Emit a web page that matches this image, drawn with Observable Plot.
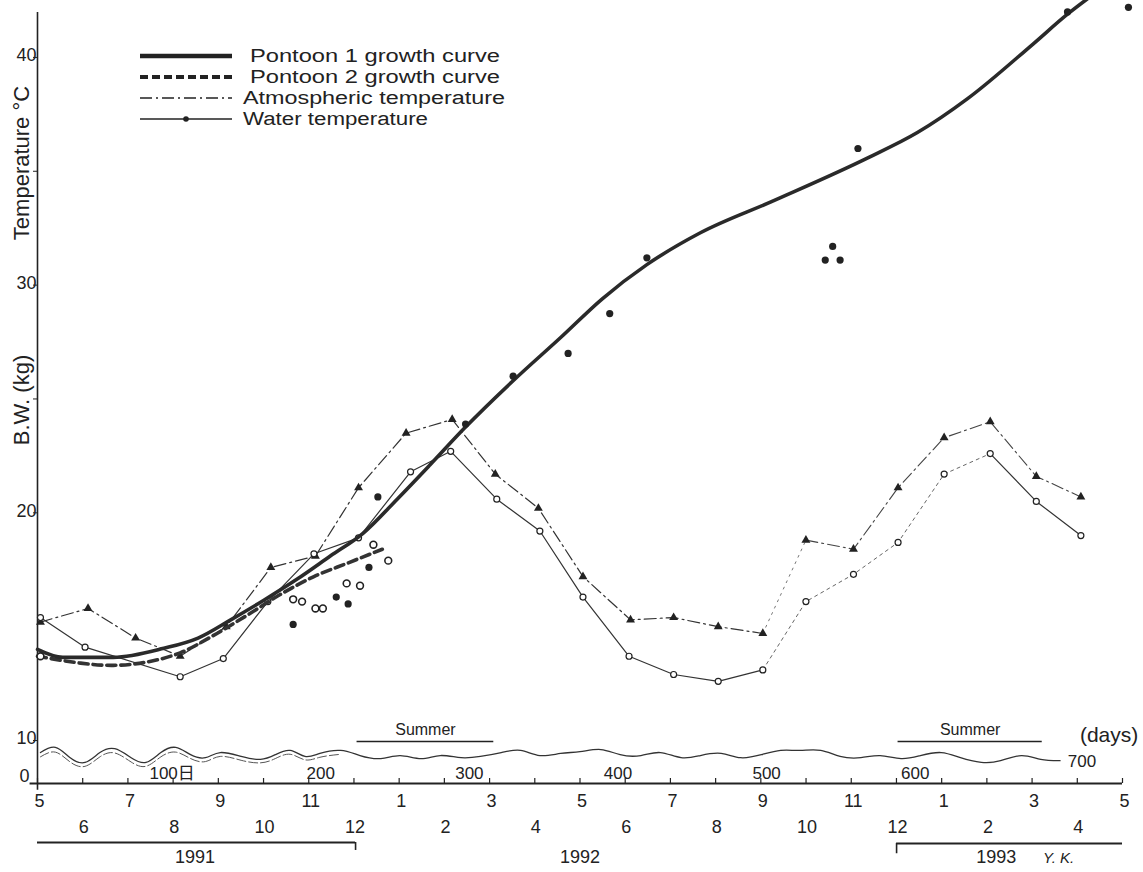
<!DOCTYPE html>
<html><head><meta charset="utf-8">
<script src="https://cdn.jsdelivr.net/npm/d3@7"></script>
<script src="https://cdn.jsdelivr.net/npm/@observablehq/plot@0.6"></script>
<style>
body{margin:0;background:#fff;}
#wrap{position:relative;width:1143px;height:872px;overflow:hidden;font-family:"Liberation Sans",Arial,Helvetica,"Noto Sans CJK JP",sans-serif;color:#222;}
#wrap svg{position:absolute;left:0;top:0;}
</style></head><body><div id="wrap"></div>
<script>
// ---- Data (x = days from 1 May 1991; y = kg or °C) ----
const monthNames = ["5","6","7","8","9","10","11","12","1","2","3","4","5","6","7","8","9","10","11","12","1","2","3","4","5"];
const dayTicks = [100,200,300,400,500,600,700];
const dayLabels = ["100日","200","300","400","500","600","700"];
const yTickValues = [10,20,30,40];
const yMinorTicks = [25,35];

const p1CurveDay = [0,17,51,85,108,130,152,175,197,219,242,264,287,320,352,380,410,446,495,559,592,626,670,693,709];
const p1CurveBW  = [14.0,13.65,13.65,14.05,14.5,15.3,16.15,17.1,18.1,19.1,20.6,22.1,23.7,25.8,27.7,29.4,30.9,32.3,33.7,35.6,36.7,38.2,40.6,41.9,42.7];

const p2CurveDay = [0,29,51,74,96,118,141,163,186,209,232];
const p2CurveBW  = [13.7,13.4,13.3,13.45,13.85,14.6,15.5,16.4,17.2,17.8,18.4];

const atmDay  = [2,34,66,96,127,157,187,216,248,279,308,337,367,399,428,458,488,517,549,579,610,641,672,702];
const atmTemp = [15.2,15.8,14.5,13.7,15.0,17.6,18.1,21.1,23.5,24.1,21.7,20.2,17.2,15.3,15.4,15.0,14.7,18.8,18.4,21.1,23.3,24.0,21.6,20.7];

const waterDay  = [2,32,96,125,155,186,216,251,278,309,338,367,398,428,458,488,517,549,579,610,641,672,702];
const waterTemp = [15.4,14.1,12.8,13.6,16.1,18.2,18.9,21.8,22.7,20.6,19.2,16.3,13.7,12.9,12.6,13.1,16.1,17.3,18.7,21.7,22.6,20.5,19.0];

const p1PtDay = [172,201,209,223,229,288,320,357,385,410,530,540,535,552,693,734];
const p1PtBW  = [15.1,16.3,16.0,17.6,20.7,23.9,26.0,27.0,28.75,31.2,31.1,31.1,31.7,36.0,42.0,42.2];

const p2PtDay = [2,172,178,187,192,208,217,226,236];
const p2PtBW  = [13.7,16.2,16.1,15.8,15.8,16.9,16.8,18.6,17.9];

// wavy strip, in units of the compressed 0–10 part of the axis
const waveDay = [2,12,22,32,42,52,63,73,83,93,103,113,123,137,150,160,170,180,190,204,217,231,244,258,271,285,298,312,325,338,352,365,379,392,406,419,433,446,460,473,487,500,513,527,540,554,567,581,594,608,621,635,648,662,675,688];
const waveVal = [7.2,8.4,6.0,4.9,7.2,8.1,6.0,4.9,7.2,8.4,6.7,6.0,7.2,6.3,5.6,6.7,7.7,6.3,7.0,7.7,6.5,5.8,6.5,5.8,6.5,6.0,6.3,7.2,7.7,6.5,7.0,7.4,7.9,6.7,6.5,7.2,6.0,6.5,7.0,6.0,6.7,7.7,7.7,7.7,6.3,6.0,6.5,5.8,6.5,7.2,6.0,4.9,5.3,6.5,5.6,5.3];
const wave2Day = [2,12,22,32,42,52,63,73,83,93,103,113,123,137,150,160,170,180,190,204];
const wave2Val = [6.2,7.3,5.0,4.0,6.2,7.1,5.0,4.0,6.2,7.3,5.8,5.1,6.3,5.4,4.8,5.8,6.8,5.5,6.1,6.8];

const summerStart = [215,579];
const summerEnd = [307,676];
const yearNames = ["1991","1992","1993"];
const yearLabelDay = [106,365,645];
const yearBar1991 = [0,214];
const yearBar1993 = [578,730];
const faintFrom = 488, faintTo = 641;   // stretch drawn faint/dotted in the original

// broken axis: 0..10 is squeezed into the strip between the x axis and the "10" tick
const AXIS_FLOOR = 8.112;
const strip = v => AXIS_FLOOR + v * (10 - AXIS_FLOOR) / 10;

// ---- build tables ----
const zip = (xs, ys) => xs.map((x,i)=>({x, y: ys[i]}));
const p1Curve = zip(p1CurveDay, p1CurveBW);
const p2Curve = zip(p2CurveDay, p2CurveBW);
const atm = zip(atmDay, atmTemp);
const water = zip(waterDay, waterTemp);
const waterA = water.filter(d => d.x <= faintFrom);
const waterB = water.filter(d => d.x >= faintFrom && d.x <= faintTo);
const waterC = water.filter(d => d.x >= faintTo);
const atmA = atm.filter(d => d.x <= faintFrom);
const atmB = atm.filter(d => d.x >= faintFrom && d.x <= 517);
const atmC = atm.filter(d => d.x >= 517);
const p1Pts = zip(p1PtDay, p1PtBW);
const p2Pts = zip(p2PtDay, p2PtBW);
const wave = zip(waveDay, waveVal.map(strip));
const wave2 = zip(wave2Day, wave2Val.map(strip));
const months = monthNames.map((m,i)=>({x: i*730/24, label: m, row: i%2}));
const days = dayTicks.map((d,i)=>({x: d, label: dayLabels[i]}));
const summers = summerStart.map((s,i)=>({x1: s, x2: summerEnd[i]}));
const years = yearNames.map((n,i)=>({x: yearLabelDay[i], label: n}));

const FONT = '"Liberation Sans", Arial, Helvetica, "Noto Sans CJK JP", sans-serif';
const INK = "#222";
const T = {fill: INK, lineAnchor: "middle"};

const chart = Plot.plot({
  width: 1143, height: 872,
  marginLeft: 37, marginRight: 21, marginTop: 0, marginBottom: 89,
  style: {fontFamily: FONT, fontSize: "18px", color: INK, background: "transparent", overflow: "visible"},
  x: {domain: [0, 730], range: [37, 1122], axis: null},
  y: {domain: [AXIS_FLOOR, 42.5], range: [783, 0], axis: null},
  marks: [
    // axes
    Plot.ruleX([0], {y1: AXIS_FLOOR - 0.3, y2: 41.97, stroke: INK, strokeWidth: 1.6}),
    Plot.ruleY([AXIS_FLOOR], {x1: -5, x2: 730, stroke: INK, strokeWidth: 2.2}),
    Plot.axisY({ticks: [...yTickValues, ...yMinorTicks], tickSize: 4, tickFormat: () => "", label: null, stroke: INK}),
    Plot.text(yTickValues, {y: d => d, text: d => String(d), frameAnchor: "left", textAnchor: "end", dx: -1, dy: -2, fontSize: 18, ...T}),
    Plot.text(["0"], {frameAnchor: "bottom-left", textAnchor: "end", dx: -8, dy: -7, fontSize: 18, ...T}),
    Plot.text(["Temperature °C"], {frameAnchor: "left", textAnchor: "middle", rotate: -90, dx: -16, dy: -229, fontSize: 22, ...T}),
    Plot.text(["B.W. (kg)"], {frameAnchor: "left", textAnchor: "middle", rotate: -90, dx: -16, dy: 8, fontSize: 22, ...T}),
    // month ticks + labels
    Plot.ruleX(months, {x: "x", y1: AXIS_FLOOR, y2: AXIS_FLOOR + 0.22, stroke: INK, strokeWidth: 1.2}),
    Plot.text(months.filter(d => d.row === 0), {x: "x", text: "label", frameAnchor: "bottom", dy: 18, dx: 2, fontSize: 18, ...T}),
    Plot.text(months.filter(d => d.row === 1), {x: "x", text: "label", frameAnchor: "bottom", dy: 44, dx: 1, fontSize: 18, ...T}),
    // year bars
    Plot.ruleY([AXIS_FLOOR], {x1: yearBar1991[0], x2: yearBar1991[1], dy: 59, stroke: INK, strokeWidth: 2.2}),
    Plot.ruleX([yearBar1991[1]], {y1: AXIS_FLOOR, y2: AXIS_FLOOR - 0.35, dy: 59, stroke: INK, strokeWidth: 1.6}),
    Plot.ruleY([AXIS_FLOOR], {x1: yearBar1993[0], x2: yearBar1993[1], dy: 60, stroke: INK, strokeWidth: 2.2}),
    Plot.ruleX([yearBar1993[0]], {y1: AXIS_FLOOR, y2: AXIS_FLOOR - 0.45, dy: 60, stroke: INK, strokeWidth: 1.6}),
    Plot.text(years, {x: "x", text: "label", frameAnchor: "bottom", dy: 74, fontSize: 18, ...T}),
    Plot.text(["Y. K."], {x: [687], frameAnchor: "bottom", dy: 75, fontSize: 15, fontStyle: "italic", ...T}),
    // day labels
    Plot.text(days.filter(d => d.x < 700), {x: "x", text: "label", frameAnchor: "bottom", dy: -10, dx: -14, fontSize: 17, ...T}),
    Plot.text(days.filter(d => d.x >= 700), {x: "x", text: "label", frameAnchor: "bottom", dy: -22, dx: 4, fontSize: 17, ...T}),
    Plot.text(["(days)"], {x: [721], frameAnchor: "bottom", dy: -48, fontSize: 21, ...T}),
    // summer
    Plot.ruleY(summers, {x1: "x1", x2: "x2", y: () => AXIS_FLOOR, dy: -42, stroke: INK, strokeWidth: 1.4}),
    Plot.text(summers, {x: d => (d.x1 + d.x2) / 2, text: () => "Summer", frameAnchor: "bottom", dy: -54, fontSize: 16, ...T}),
    // wavy strip
    Plot.line(wave, {x: "x", y: "y", curve: "natural", stroke: "#333", strokeWidth: 1.3}),
    Plot.line(wave2, {x: "x", y: "y", curve: "natural", stroke: "#555", strokeWidth: 1, strokeDasharray: "9,3"}),
    // temperatures
    Plot.line(atmA, {x: "x", y: "y", stroke: "#333", strokeWidth: 1.2, strokeDasharray: "12,4,2,4"}),
    Plot.line(atmB, {x: "x", y: "y", stroke: "#777", strokeWidth: 1, strokeDasharray: "2,5"}),
    Plot.line(atmC, {x: "x", y: "y", stroke: "#444", strokeWidth: 1.1, strokeDasharray: "12,4,2,4"}),
    Plot.dot(atm, {x: "x", y: "y", symbol: "triangle", r: 3.3, fill: "#222"}),
    Plot.line(waterA, {x: "x", y: "y", stroke: "#333", strokeWidth: 1.2}),
    Plot.line(waterB, {x: "x", y: "y", stroke: "#666", strokeWidth: 1, strokeDasharray: "3,4"}),
    Plot.line(waterC, {x: "x", y: "y", stroke: "#333", strokeWidth: 1.2}),
    Plot.dot(water, {x: "x", y: "y", r: 3, fill: "white", stroke: "#222", strokeWidth: 1.2}),
    // growth curves
    Plot.line(p2Curve, {x: "x", y: "y", curve: "catmull-rom", stroke: "#333", strokeWidth: 3.6, strokeDasharray: "9,5"}),
    Plot.line(p1Curve, {x: "x", y: "y", curve: "monotone-x", stroke: "#2a2a2a", strokeWidth: 3.6}),
    Plot.dot(p2Pts, {x: "x", y: "y", r: 3.4, fill: "white", stroke: "#222", strokeWidth: 1.6}),
    Plot.dot(p1Pts, {x: "x", y: "y", r: 3.6, fill: "#222"})
  ]
});
document.getElementById("wrap").appendChild(chart);

// legend overlay
const leg = d3.select("#wrap").append("svg").attr("width", 1143).attr("height", 872)
  .style("font-family", FONT).style("font-size", "18px").attr("fill", INK);
const legendItems = [
  {label: "Pontoon 1 growth curve", w: 4.5, dash: null, marker: null, x: 250, len: 250},
  {label: "Pontoon 2 growth curve", w: 4, dash: "8,4", marker: null, x: 250, len: 250},
  {label: "Atmospheric temperature", w: 1.3, dash: "12,4,2,4", marker: null, x: 243, len: 262},
  {label: "Water temperature", w: 1.3, dash: null, marker: "dot", x: 243, len: 185}
];
const rowY = [56, 77, 98, 119];
legendItems.forEach((it, i) => {
  const y = rowY[i];
  const ln = leg.append("line").attr("x1", 140).attr("x2", 232).attr("y1", y).attr("y2", y)
    .attr("stroke", "#222").attr("stroke-width", it.w);
  if (it.dash) ln.attr("stroke-dasharray", it.dash);
  if (it.marker === "dot") leg.append("circle").attr("cx", 186).attr("cy", y).attr("r", 2.8).attr("fill", "#222");
  leg.append("text").attr("x", it.x).attr("y", y).attr("dy", "0.35em")
    .attr("textLength", it.len).attr("lengthAdjust", "spacingAndGlyphs").text(it.label);
});
</script>
</body></html>
